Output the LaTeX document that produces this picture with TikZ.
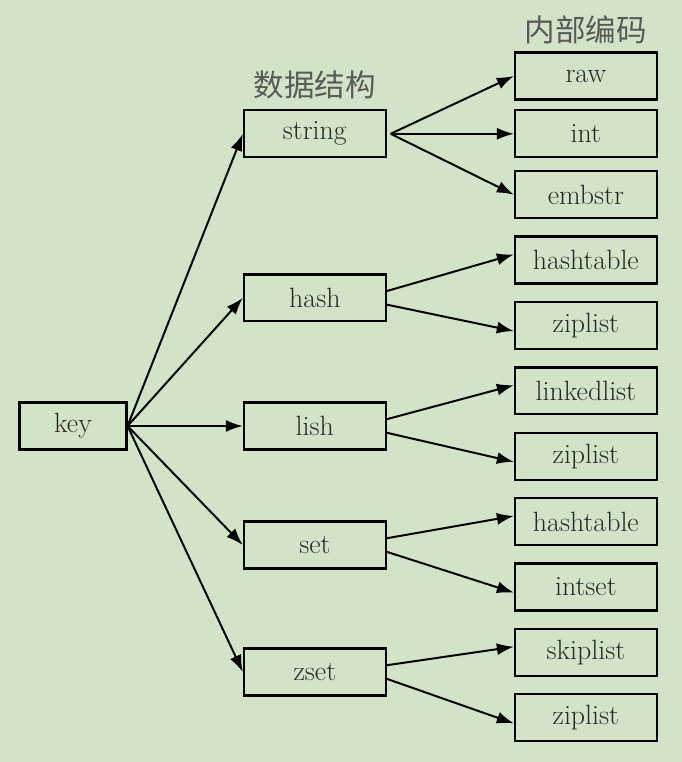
\documentclass[tikz,border=0pt]{standalone}
\usepackage{fontspec}
\newfontfamily\cjkfont{Noto Sans CJK SC}
\usetikzlibrary{arrows.meta,positioning}
\definecolor{bggreen}{RGB}{211,227,199}
\definecolor{inkgray}{RGB}{40,40,40}

\begin{document}
\begin{tikzpicture}
        [node distance=1.73cm,
        on grid,
        >={Latex[length=4.5mm,width=3.2mm]},
        box/.style={draw, line width=1.7pt, minimum width=3.75cm, minimum height=1.24cm, inner sep=0pt, text=inkgray, font=\fontsize{21}{23}\selectfont},
        link/.style={->, line width=1.5pt},
        heading/.style={text=black!65, font=\cjkfont\fontsize{23}{26}\selectfont}]

        \fill[bggreen] (-1.93,-8.89) rectangle (16.11,11.27);

        \node[box, minimum width=2.83cm] (key) {key};

        \node[box] (lish) [right=6.4cm of key] {lish};
        \node[box] (hash) [above=3.39cm of lish] {hash};
        \node[box] (string) [above=4.34cm of hash] {string};
        \node[box] (set) [below=3.15cm of lish] {set};
        \node[box] (zset) [below=3.36cm of set] {zset};

        \node[box] (int) [right=7.17cm of string] {int};
        \node[box] (raw) [above=1.53cm of int] {raw};
        \node[box] (embstr) [below=1.61cm of int] {embstr};
        \node[box] (hashtable1) [below=of embstr] {hashtable};
        \node[box] (ziplist1) [below=of hashtable1] {ziplist};
        \node[box] (linkedlist) [below=of ziplist1] {linkedlist};
        \node[box] (ziplist2) [below=of linkedlist] {ziplist};
        \node[box] (hashtable2) [below=of ziplist2] {hashtable};
        \node[box] (intset) [below=of hashtable2] {intset};
        \node[box] (skiplist) [below=of intset] {skiplist};
        \node[box] (ziplist3) [below=of skiplist] {ziplist};

        \node[heading] (structlabel) [above=1.3cm of string] {数据结构};
        \node[heading] (codinglabel) [above=1.22cm of raw] {内部编码};

        % key -> data structures
        \draw[link] (key.east) -- (string.west);
        \draw[link] (key.east) -- (hash.west);
        \draw[link] (key.east) -- (lish.west);
        \draw[link] (key.east) -- (set.west);
        \draw[link] (key.east) -- (zset.west);

        % data structures -> encodings
        \draw[link] ([xshift=1mm]string.east) -- (raw.west);
        \draw[link] ([xshift=1mm]string.east) -- (int.west);
        \draw[link] ([xshift=1mm]string.east) -- (embstr.west);
        \draw[link] ([yshift=1.8mm]hash.east) -- ([yshift=1.5mm]hashtable1.west);
        \draw[link] ([yshift=-1.8mm]hash.east) -- ([yshift=-1.5mm]ziplist1.west);
        \draw[link] ([yshift=1.8mm]lish.east) -- ([yshift=1.5mm]linkedlist.west);
        \draw[link] ([yshift=-1.8mm]lish.east) -- ([yshift=-1.5mm]ziplist2.west);
        \draw[link] ([yshift=1.8mm]set.east) -- ([yshift=1.5mm]hashtable2.west);
        \draw[link] ([yshift=-1.8mm]set.east) -- ([yshift=-1.5mm]intset.west);
        \draw[link] ([yshift=1.8mm]zset.east) -- ([yshift=1.5mm]skiplist.west);
        \draw[link] ([yshift=-1.8mm]zset.east) -- ([yshift=-1.5mm]ziplist3.west);
\end{tikzpicture}
\end{document}
